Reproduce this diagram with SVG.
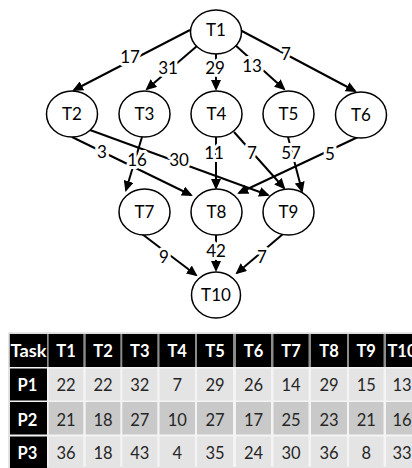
<svg xmlns="http://www.w3.org/2000/svg" width="412" height="468" viewBox="0 0 412 468">
  <defs>
    <marker id="arrow" markerWidth="11" markerHeight="10" refX="9" refY="5" orient="auto" markerUnits="userSpaceOnUse">
      <path d="M0,0 L11,5 L0,10 z" fill="#000"/>
    </marker>
    <style>
      text { font-family: Lato, "Open Sans", "Liberation Sans", sans-serif; }
      .node ellipse { fill: #fff; stroke: #000; stroke-width: 1.5; }
      .node text { font-size: 17px; text-anchor: middle; fill: #000; }
      .edge { stroke: #000; stroke-width: 2; fill: none; marker-end: url(#arrow); }
      .wt { font-size: 17px; text-anchor: middle; fill: #000; stroke: #fff; stroke-width: 6; paint-order: stroke; stroke-linejoin: round; }
      .hd { fill: #000; }
      .hdt { font-size: 16.5px; font-weight: bold; fill: #fff; text-anchor: middle; }
      .ra { fill: #e4e4e4; }
      .rb { fill: #c9c9c9; }
      .dt { font-size: 16.5px; fill: #262626; text-anchor: middle; }
    </style>
  </defs>

  <!-- connectors -->
  <g id="edges">
    <line class="edge" x1="190" y1="30" x2="74" y2="90"/>
    <line class="edge" x1="197" y1="46" x2="147" y2="89"/>
    <line class="edge" x1="216" y1="54" x2="216" y2="89"/>
    <line class="edge" x1="234" y1="44" x2="284" y2="89"/>
    <line class="edge" x1="240" y1="30" x2="355" y2="91"/>
    <line class="edge" x1="72" y1="137" x2="191" y2="195"/>
    <line class="edge" x1="90" y1="130" x2="268" y2="195"/>
    <line class="edge" x1="142" y1="137" x2="126" y2="190"/>
    <line class="edge" x1="216" y1="137" x2="216" y2="188"/>
    <line class="edge" x1="234" y1="132" x2="284" y2="188"/>
    <line class="edge" x1="288" y1="137" x2="302" y2="191"/>
    <line class="edge" x1="358" y1="137" x2="239" y2="193"/>
    <line class="edge" x1="142" y1="234" x2="196" y2="275"/>
    <line class="edge" x1="216" y1="235" x2="216" y2="270"/>
    <line class="edge" x1="283" y1="234" x2="237" y2="273"/>
    <!-- edge weights -->
    <text class="wt" x="130" y="63">17</text>
    <text class="wt" x="168" y="74">31</text>
    <text class="wt" x="215" y="74">29</text>
    <text class="wt" x="252" y="72">13</text>
    <text class="wt" x="286" y="60">7</text>
    <text class="wt" x="102" y="158">3</text>
    <text class="wt" x="137" y="166">16</text>
    <text class="wt" x="179" y="166">30</text>
    <text class="wt" x="214" y="159">11</text>
    <text class="wt" x="252" y="159">7</text>
    <text class="wt" x="291" y="159">57</text>
    <text class="wt" x="330" y="160">5</text>
    <text class="wt" x="164" y="263">9</text>
    <text class="wt" x="216" y="257">42</text>
    <text class="wt" x="262" y="263">7</text>
  </g>

  <!-- task nodes -->
  <g id="T1" class="node"><ellipse cx="216" cy="32" rx="25.5" ry="22"/><text x="216" y="36">T1</text></g>
  <g id="T2" class="node"><ellipse cx="72" cy="114" rx="25.5" ry="23"/><text x="72" y="120">T2</text></g>
  <g id="T3" class="node"><ellipse cx="144.5" cy="114" rx="25.5" ry="23"/><text x="144.5" y="120">T3</text></g>
  <g id="T4" class="node"><ellipse cx="216.5" cy="114" rx="25.5" ry="23"/><text x="216.5" y="120">T4</text></g>
  <g id="T5" class="node"><ellipse cx="288.5" cy="114" rx="25.5" ry="23"/><text x="288.5" y="120">T5</text></g>
  <g id="T6" class="node"><ellipse cx="361" cy="115" rx="25.5" ry="23"/><text x="361" y="121">T6</text></g>
  <g id="T7" class="node"><ellipse cx="144.5" cy="212" rx="25.5" ry="23"/><text x="144.5" y="218">T7</text></g>
  <g id="T8" class="node"><ellipse cx="216.5" cy="212" rx="25.5" ry="23"/><text x="216.5" y="218">T8</text></g>
  <g id="T9" class="node"><ellipse cx="288.5" cy="212" rx="25.5" ry="23"/><text x="288.5" y="218">T9</text></g>
  <g id="T10" class="node"><ellipse cx="216" cy="295" rx="24.5" ry="23"/><text x="216" y="301">T10</text></g>

  <!-- cost table -->
  <g id="cost-table">
    <rect x="9" y="333" width="404" height="135" fill="#f4f4f4" stroke="#bdbdbd" stroke-width="0.8"/>
    <rect x="9.5" y="334" width="403" height="33" fill="#8c8c8c"/>
    <!-- header row -->
    <rect class="hd" x="10" y="334" width="37" height="33"/>
    <rect class="hd" x="48.7" y="334" width="34.6" height="33"/>
    <rect class="hd" x="85.7" y="334" width="34.6" height="33"/>
    <rect class="hd" x="122.3" y="334" width="35" height="33"/>
    <rect class="hd" x="159.5" y="334" width="35.5" height="33"/>
    <rect class="hd" x="197" y="334" width="36" height="33"/>
    <rect class="hd" x="236" y="334" width="35" height="33"/>
    <rect class="hd" x="273.5" y="334" width="35" height="33"/>
    <rect class="hd" x="311" y="334" width="36" height="33"/>
    <rect class="hd" x="349" y="334" width="34.5" height="33"/>
    <rect class="hd" x="386" y="334" width="40" height="33"/>
    <text class="hdt" x="28.5" y="357" textLength="36" lengthAdjust="spacingAndGlyphs">Task</text>
    <text class="hdt" x="66" y="357">T1</text>
    <text class="hdt" x="103" y="357">T2</text>
    <text class="hdt" x="139.8" y="357">T3</text>
    <text class="hdt" x="177.2" y="357">T4</text>
    <text class="hdt" x="215" y="357">T5</text>
    <text class="hdt" x="253.5" y="357">T6</text>
    <text class="hdt" x="291" y="357">T7</text>
    <text class="hdt" x="329" y="357">T8</text>
    <text class="hdt" x="366.2" y="357">T9</text>
    <text class="hdt" x="402" y="357">T10</text>

    <!-- P1 row -->
    <rect class="hd" x="10" y="368.5" width="37" height="32"/>
    <rect class="ra" x="48.7" y="368.5" width="34.6" height="32"/>
    <rect class="ra" x="85.7" y="368.5" width="34.6" height="32"/>
    <rect class="ra" x="122.3" y="368.5" width="35" height="32"/>
    <rect class="ra" x="159.5" y="368.5" width="35.5" height="32"/>
    <rect class="ra" x="197" y="368.5" width="36" height="32"/>
    <rect class="ra" x="236" y="368.5" width="35" height="32"/>
    <rect class="ra" x="273.5" y="368.5" width="35" height="32"/>
    <rect class="ra" x="311" y="368.5" width="36" height="32"/>
    <rect class="ra" x="349" y="368.5" width="34.5" height="32"/>
    <rect class="ra" x="386" y="368.5" width="40" height="32"/>
    <text class="hdt" x="27.5" y="390.7">P1</text>
    <text class="dt" x="66" y="390.7">22</text>
    <text class="dt" x="103" y="390.7">22</text>
    <text class="dt" x="139.8" y="390.7">32</text>
    <text class="dt" x="177.2" y="390.7">7</text>
    <text class="dt" x="215" y="390.7">29</text>
    <text class="dt" x="253.5" y="390.7">26</text>
    <text class="dt" x="291" y="390.7">14</text>
    <text class="dt" x="329" y="390.7">29</text>
    <text class="dt" x="366.2" y="390.7">15</text>
    <text class="dt" x="402" y="390.7">13</text>

    <!-- P2 row -->
    <rect class="hd" x="10" y="402" width="37" height="32.5"/>
    <rect class="rb" x="48.7" y="402" width="34.6" height="32.5"/>
    <rect class="rb" x="85.7" y="402" width="34.6" height="32.5"/>
    <rect class="rb" x="122.3" y="402" width="35" height="32.5"/>
    <rect class="rb" x="159.5" y="402" width="35.5" height="32.5"/>
    <rect class="rb" x="197" y="402" width="36" height="32.5"/>
    <rect class="rb" x="236" y="402" width="35" height="32.5"/>
    <rect class="rb" x="273.5" y="402" width="35" height="32.5"/>
    <rect class="rb" x="311" y="402" width="36" height="32.5"/>
    <rect class="rb" x="349" y="402" width="34.5" height="32.5"/>
    <rect class="rb" x="386" y="402" width="40" height="32.5"/>
    <text class="hdt" x="27.5" y="425.5">P2</text>
    <text class="dt" x="66" y="425.5">21</text>
    <text class="dt" x="103" y="425.5">18</text>
    <text class="dt" x="139.8" y="425.5">27</text>
    <text class="dt" x="177.2" y="425.5">10</text>
    <text class="dt" x="215" y="425.5">27</text>
    <text class="dt" x="253.5" y="425.5">17</text>
    <text class="dt" x="291" y="425.5">25</text>
    <text class="dt" x="329" y="425.5">23</text>
    <text class="dt" x="366.2" y="425.5">21</text>
    <text class="dt" x="402" y="425.5">16</text>

    <!-- P3 row -->
    <rect class="hd" x="10" y="436.5" width="37" height="31.5"/>
    <rect class="ra" x="48.7" y="436.5" width="34.6" height="31.5"/>
    <rect class="ra" x="85.7" y="436.5" width="34.6" height="31.5"/>
    <rect class="ra" x="122.3" y="436.5" width="35" height="31.5"/>
    <rect class="ra" x="159.5" y="436.5" width="35.5" height="31.5"/>
    <rect class="ra" x="197" y="436.5" width="36" height="31.5"/>
    <rect class="ra" x="236" y="436.5" width="35" height="31.5"/>
    <rect class="ra" x="273.5" y="436.5" width="35" height="31.5"/>
    <rect class="ra" x="311" y="436.5" width="36" height="31.5"/>
    <rect class="ra" x="349" y="436.5" width="34.5" height="31.5"/>
    <rect class="ra" x="386" y="436.5" width="40" height="31.5"/>
    <text class="hdt" x="27.5" y="459">P3</text>
    <text class="dt" x="66" y="459">36</text>
    <text class="dt" x="103" y="459">18</text>
    <text class="dt" x="139.8" y="459">43</text>
    <text class="dt" x="177.2" y="459">4</text>
    <text class="dt" x="215" y="459">35</text>
    <text class="dt" x="253.5" y="459">24</text>
    <text class="dt" x="291" y="459">30</text>
    <text class="dt" x="329" y="459">36</text>
    <text class="dt" x="366.2" y="459">8</text>
    <text class="dt" x="402" y="459">33</text>
  </g>
</svg>
